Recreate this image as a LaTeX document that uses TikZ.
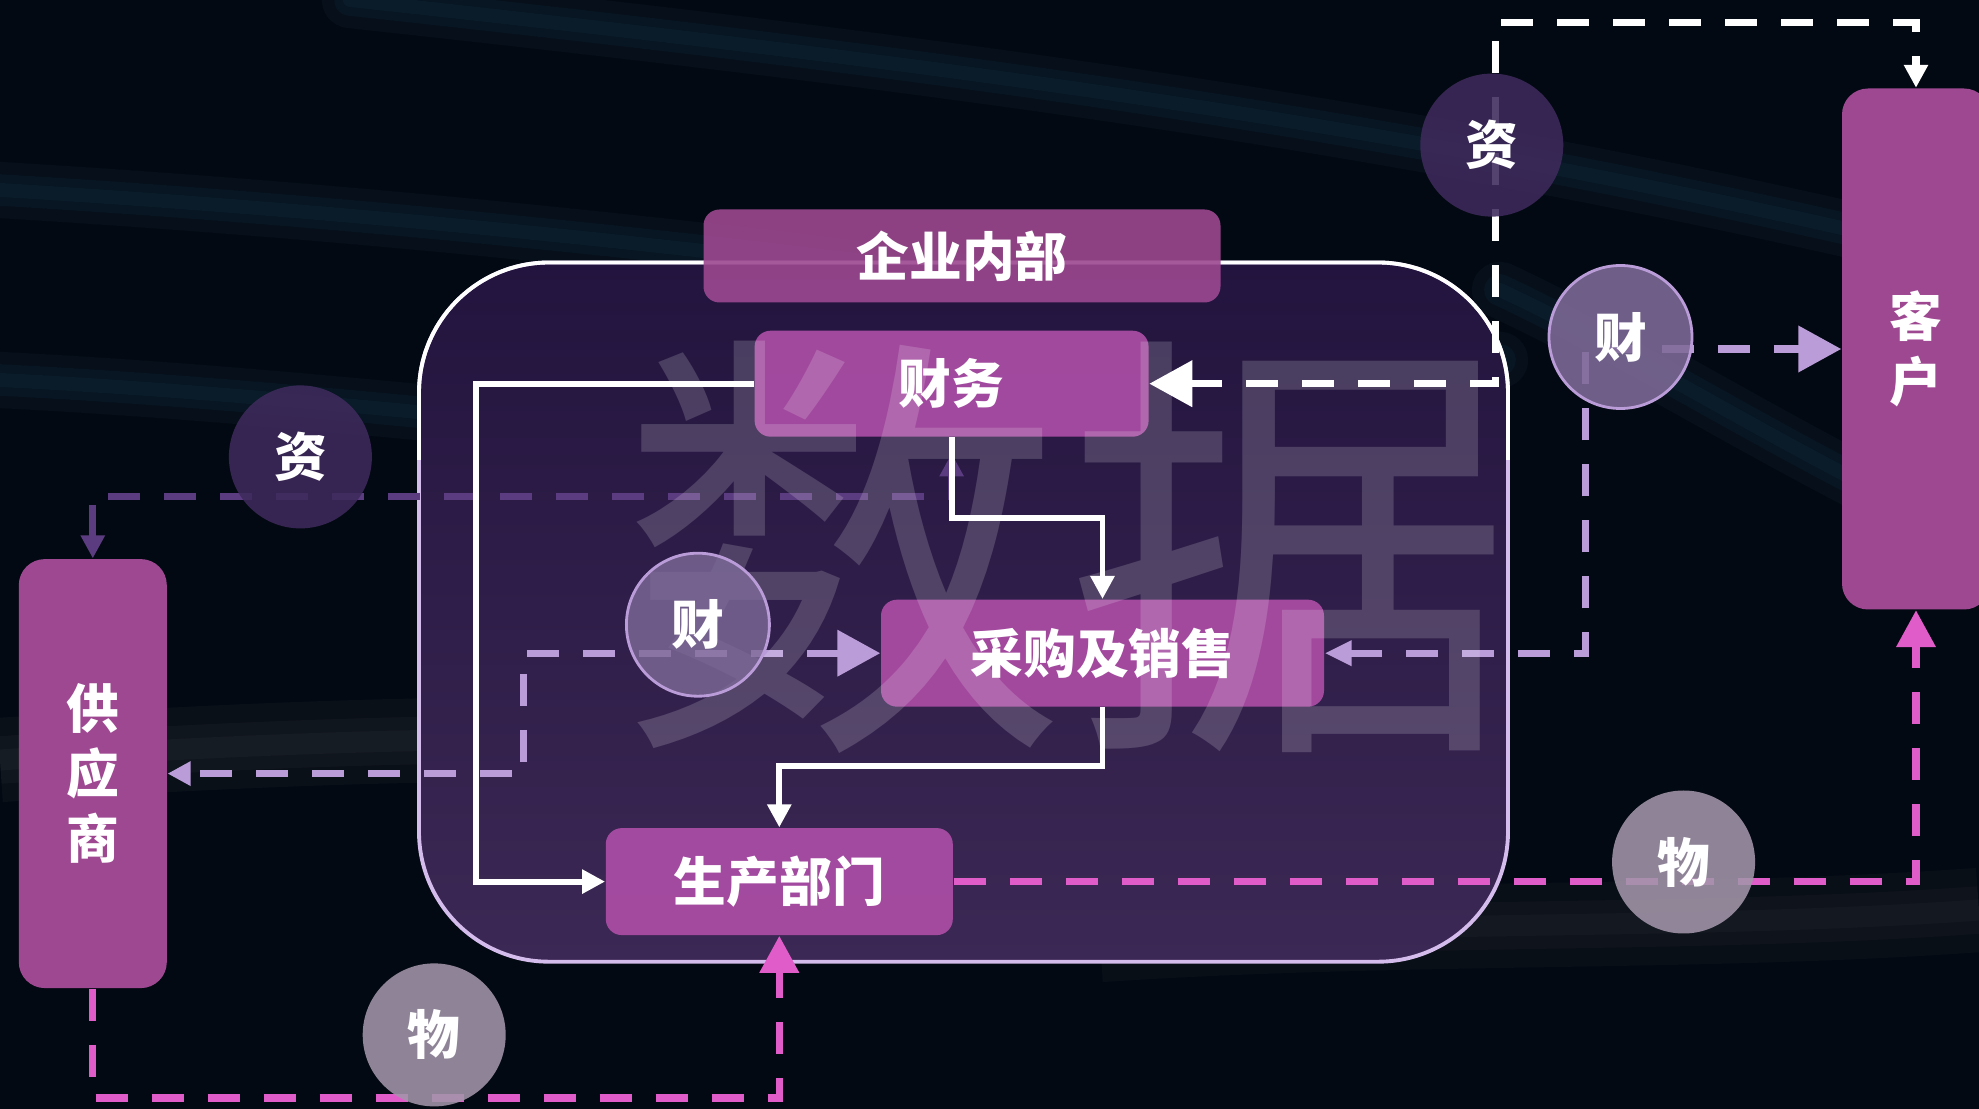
\documentclass[tikz,border=0pt]{standalone}
\usepackage{fontspec}
\newfontfamily\cjk{Noto Sans CJK SC}
\usetikzlibrary{arrows.meta, calc, positioning}
\definecolor{bgdark}{HTML}{030912}
\definecolor{boxpink}{HTML}{AB4DA5}
\definecolor{sidepink}{HTML}{9E4892}
\definecolor{headpink}{HTML}{9C4890}
\definecolor{lav}{HTML}{BA9CD8}
\definecolor{hotpink}{HTML}{E05CC8}
\definecolor{deeppurple}{HTML}{5C3C80}
\definecolor{rimlav}{HTML}{D4BCEC}
\definecolor{zicol}{HTML}{3E2A5C}
\definecolor{caicol}{HTML}{7E6A98}
\definecolor{wucol}{HTML}{A396AA}
\definecolor{streak}{HTML}{2A6282}

\begin{document}
\begin{tikzpicture}[% styles used in image code
         > = {Triangle[length=2.3mm, width=2.3mm]},
  BigTri/.tip = {Triangle[length=4.3mm, width=4.5mm]},
  MidTri/.tip = {Triangle[length=3.7mm, width=3.8mm]},
     dept/.style = {fill=boxpink, fill opacity=.93, text opacity=1,
                    rounded corners=1.6mm, text=white, inner sep=0pt,
                    font=\cjk\bfseries\fontsize{15}{18}\selectfont},
    party/.style = {fill=sidepink, rounded corners=2.6mm, text=white,
                    minimum width=14.8mm, inner sep=0pt, align=center,
                    font=\cjk\bfseries\fontsize{15}{18.5}\selectfont},
    token/.style = {circle, minimum size=14.3mm, inner sep=0pt,
                    fill opacity=.88, text opacity=1, text=white,
                    font=\cjk\bfseries\fontsize{15}{18}\selectfont},
     flow/.style = {white, line width=1.7pt},
    dflow/.style = {line width=2.1pt, dash pattern=on 3.2mm off 2.4mm},
     haze/.style = {streak, line cap=round, opacity=.08},
                        ]
	\useasboundingbox (0,0) rectangle (19.79,-11.09);
	% background, soft streaks
	\fill[bgdark] (0,0) rectangle (19.79,-11.09);
	\foreach \w in {4,9,16}{
		\draw[haze, line width=\w pt] (3.5,0) .. controls (9,-0.6) and (14,-1.2) .. (19.79,-2.6);
		\draw[haze, line width=\w pt] (0,-1.9) .. controls (5,-2.2) and (10,-2.8) .. (15,-3.6);
		\draw[haze, line width=\w pt] (0,-3.8) .. controls (2,-3.9) and (4,-4.1) .. (6,-4.3);
		\draw[haze, line width=\w pt] (15,-2.9) .. controls (16.5,-3.6) and (18,-4.6) .. (19.79,-5.4);
		\draw[gray, line width=1.5*\w pt, opacity=.06] (0,-7.6) .. controls (3,-7.4) and (6,-7.3) .. (9,-7.5);
		\draw[gray, line width=1.5*\w pt, opacity=.05] (11,-9.4) .. controls (14,-9.2) and (17,-9.3) .. (19.79,-9.1);
	}

	% company frame
	\shade[top color={rgb,255:red,34;green,20;blue,62}, bottom color={rgb,255:red,60;green,40;blue,84},
	       rounded corners=13mm] (4.19,-2.625) rectangle (15.08,-9.617);
	\draw[rimlav, line width=1.1pt, rounded corners=13mm] (4.19,-2.625) rectangle (15.08,-9.617);
	\begin{scope}
		\clip (0,0) rectangle (19.79,-4.6);
		\draw[white, line width=1.1pt, rounded corners=13mm] (4.19,-2.625) rectangle (15.08,-9.617);
	\end{scope}
	\node[dept, fill=headpink, fill opacity=.9, minimum width=51.7mm, minimum height=9.3mm] (inside) at (9.62,-2.56) {企业内部};

	% departments and partners
	\node[dept, minimum width=39.4mm, minimum height=10.6mm] (finance) at (9.516,-3.837) {财务};
	\node[dept, minimum width=44.3mm, minimum height=10.7mm] (sales) at (11.025,-6.532) {采购及销售};
	\node[dept, minimum width=34.7mm, minimum height=10.7mm] (prod) at (7.793,-8.816) {生产部门};
	\node[party, minimum height=42.9mm] (supplier) at (0.928,-7.736) {供\\应\\商};
	\node[party, minimum height=52.1mm] (client) at (19.16,-3.49) {客\\户};

	% turning points
	\coordinate (topturn) at (14.956,-0.227);
	\coordinate (rturn) at (15.852,-3.49);
	\coordinate (lturn) at (5.238,-6.532);
	\coordinate (botturn) at (0.928,-10.98);

	% dashed flows
	\draw[dflow, deeppurple, <->, shorten >=1.6mm] (supplier.north) |- ([yshift=-5.9mm]finance.south) -- (finance.south);
	\draw[dflow, white, BigTri->] (finance.east) -| (topturn) -| (client.north);
	\draw[dflow, lav, {Triangle[length=2.7mm, width=2.4mm]}-BigTri] (sales.east) -| (rturn) -- (client.west);
	\draw[dflow, lav, BigTri->] (sales.west) -| (lturn) |- (supplier.east);
	\draw[dflow, hotpink, -MidTri] (prod.east) -| (client.south);
	\draw[dflow, hotpink, -MidTri] (supplier.south) -- (botturn) -| (prod.south);

	% solid flows
	\draw[flow, ->] (finance.west) -- ++(-2.78,0) |- (prod.west);
	\draw[flow, ->] (finance.south) -- ++(0,-0.81) -| (sales.north);
	\draw[flow, ->] (sales.south) -- ++(0,-0.59) -| (prod.north);

	% watermark
	\node[text=white, opacity=.17, inner sep=0pt, font=\cjk\fontsize{127}{127}\selectfont] (mark) at (10.66,-5.47) {数据};

	% tokens
	\node[token, fill=zicol] (zitop) at (14.918,-1.451) {资};
	\node[token, fill=zicol] (zileft) at (3.004,-4.569) {资};
	\node[token, fill=caicol, draw=lav, line width=.8pt] (cairight) at (16.205,-3.37) {财};
	\node[token, fill=caicol, draw=lav, line width=.8pt, fill opacity=.8] (caimid) at (6.979,-6.247) {财};
	\node[token, fill=wucol] (wubot) at (4.342,-10.349) {物};
	\node[token, fill=wucol] (wuright) at (16.836,-8.62) {物};
\end{tikzpicture}
\end{document}
